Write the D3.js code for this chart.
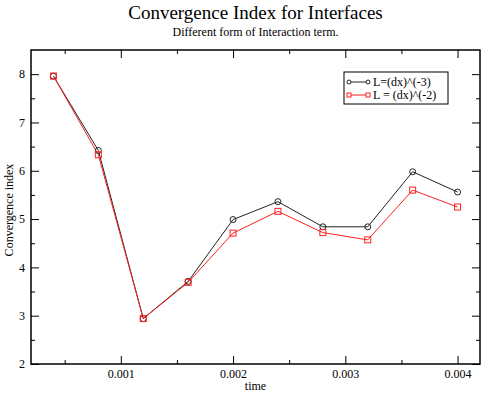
<!DOCTYPE html>
<html>
<head>
<meta charset="utf-8">
<script src="https://cdn.jsdelivr.net/npm/d3@7"></script>
<style>
  body { margin: 0; background: #fff; }
</style>
</head>
<body>
<div id="chart"></div>
<script>
// dati
var times = [0.0004, 0.0008, 0.0012, 0.0016, 0.002, 0.0024, 0.0028, 0.0032, 0.0036, 0.004];
var seriesCube = [7.96, 6.42, 2.94, 3.71, 4.99, 5.36, 4.84, 4.84, 5.98, 5.56];
var seriesSquare = [7.96, 6.33, 2.94, 3.69, 4.71, 5.16, 4.72, 4.57, 5.60, 5.25];
var xTicks = [0.001, 0.002, 0.003, 0.004];
var yTicks = [2, 3, 4, 5, 6, 7, 8];
var labels = ['L=(dx)^(-3)', 'L = (dx)^(-2)'];

var width = 485, height = 395;
var plotLeft = 31, plotRight = 480, plotTop = 50, plotBottom = 364;
var serif = '"Liberation Serif", "Times New Roman", "DejaVu Serif", serif';

var svg = d3.select('#chart').append('svg')
    .attr('width', width)
    .attr('height', height)
    .attr('font-family', serif);

var x = d3.scaleLinear().domain([0.0002, 0.0042]).range([plotLeft, plotRight]);
var y = d3.scaleLinear().domain([2, 8.5]).range([plotBottom, plotTop]);

// Titoli
svg.append('text').attr('x', (plotLeft + plotRight) / 2).attr('y', 19)
    .attr('text-anchor', 'middle').attr('font-family', serif).attr('font-size', 19)
    .text('Convergence Index for Interfaces');
svg.append('text').attr('x', (plotLeft + plotRight) / 2).attr('y', 36)
    .attr('text-anchor', 'middle').attr('font-family', serif).attr('font-size', 12)
    .text('Different form of Interaction term.');

// Assi (tick verso l'interno, anche sopra e a destra)
var minorX = [0.0005, 0.0015, 0.0025, 0.0035];
var minorY = [2.5, 3.5, 4.5, 5.5, 6.5, 7.5];

function tickStyle(g) {
    g.attr('font-family', serif).attr('font-size', 12);
    g.select('.domain').remove();
    g.selectAll('line').attr('stroke', '#000');
    g.selectAll('text').attr('fill', '#000');
}

svg.append('g').attr('transform', `translate(0,${plotBottom})`)
    .call(d3.axisBottom(x).tickValues(xTicks).tickSize(-8).tickPadding(5).tickFormat(d3.format('.3f')))
    .call(tickStyle);
svg.append('g').attr('transform', `translate(0,${plotBottom})`)
    .call(d3.axisBottom(x).tickValues(minorX).tickSize(-4).tickFormat(''))
    .call(tickStyle);
svg.append('g').attr('transform', `translate(0,${plotTop})`)
    .call(d3.axisTop(x).tickValues(xTicks).tickSize(-8).tickFormat(''))
    .call(tickStyle);
svg.append('g').attr('transform', `translate(0,${plotTop})`)
    .call(d3.axisTop(x).tickValues(minorX).tickSize(-4).tickFormat(''))
    .call(tickStyle);

svg.append('g').attr('transform', `translate(${plotLeft},0)`)
    .call(d3.axisLeft(y).tickValues(yTicks).tickSize(-8).tickPadding(6).tickFormat(d3.format('d')))
    .call(tickStyle);
svg.append('g').attr('transform', `translate(${plotLeft},0)`)
    .call(d3.axisLeft(y).tickValues(minorY).tickSize(-4).tickFormat(''))
    .call(tickStyle);
svg.append('g').attr('transform', `translate(${plotRight},0)`)
    .call(d3.axisRight(y).tickValues(yTicks).tickSize(-8).tickFormat(''))
    .call(tickStyle);
svg.append('g').attr('transform', `translate(${plotRight},0)`)
    .call(d3.axisRight(y).tickValues(minorY).tickSize(-4).tickFormat(''))
    .call(tickStyle);

// Cornice
svg.append('rect').attr('x', plotLeft).attr('y', plotTop)
    .attr('width', plotRight - plotLeft).attr('height', plotBottom - plotTop)
    .attr('fill', 'none').attr('stroke', '#000').attr('stroke-width', 1.5);

// Etichette assi
svg.append('text').attr('x', (plotLeft + plotRight) / 2).attr('y', 390)
    .attr('text-anchor', 'middle').attr('font-size', 12).text('time');
svg.append('text').attr('transform', `translate(13,210) rotate(-90)`)
    .attr('text-anchor', 'middle').attr('font-size', 12).text('Convergence index');

// Serie
var line = d3.line().x(d => x(d[0])).y(d => y(d[1]));
var dataCube = times.map((t, i) => [t, seriesCube[i]]);
var dataSquare = times.map((t, i) => [t, seriesSquare[i]]);

svg.append('path').datum(dataCube).attr('d', line)
    .attr('fill', 'none').attr('stroke', '#222').attr('stroke-width', 1);
svg.append('path').datum(dataSquare).attr('d', line)
    .attr('fill', 'none').attr('stroke', '#ff2020').attr('stroke-width', 1);

svg.selectAll('circle.cube').data(dataCube).enter().append('circle')
    .attr('class', 'cube')
    .attr('cx', d => x(d[0])).attr('cy', d => y(d[1])).attr('r', 3)
    .attr('fill', 'none').attr('stroke', '#222').attr('stroke-width', 1);
svg.selectAll('rect.square').data(dataSquare).enter().append('rect')
    .attr('class', 'square')
    .attr('x', d => x(d[0]) - 3).attr('y', d => y(d[1]) - 3)
    .attr('width', 6).attr('height', 6)
    .attr('fill', 'none').attr('stroke', '#ff2020').attr('stroke-width', 1);

// Legenda
var legend = svg.append('g').attr('transform', 'translate(344,72)');
legend.append('rect').attr('width', 104).attr('height', 32)
    .attr('fill', '#fff').attr('stroke', '#000').attr('stroke-width', 1);
var colors = ['#222', '#ff2020'];
labels.forEach((lab, i) => {
    var ly = 10 + i * 13;
    var row = legend.append('g');
    row.append('line').attr('x1', 5).attr('x2', 24).attr('y1', ly).attr('y2', ly)
        .attr('stroke', colors[i]);
    [5, 24].forEach(px => {
        if (i === 0) {
            row.append('circle').attr('cx', px).attr('cy', ly).attr('r', 2)
                .attr('fill', '#fff').attr('stroke', colors[i]);
        } else {
            row.append('rect').attr('x', px - 2).attr('y', ly - 2).attr('width', 4).attr('height', 4)
                .attr('fill', '#fff').attr('stroke', colors[i]);
        }
    });
    row.append('text').attr('x', 29).attr('y', ly + 3.5).attr('font-size', 12).text(lab);
});
</script>
</body>
</html>
